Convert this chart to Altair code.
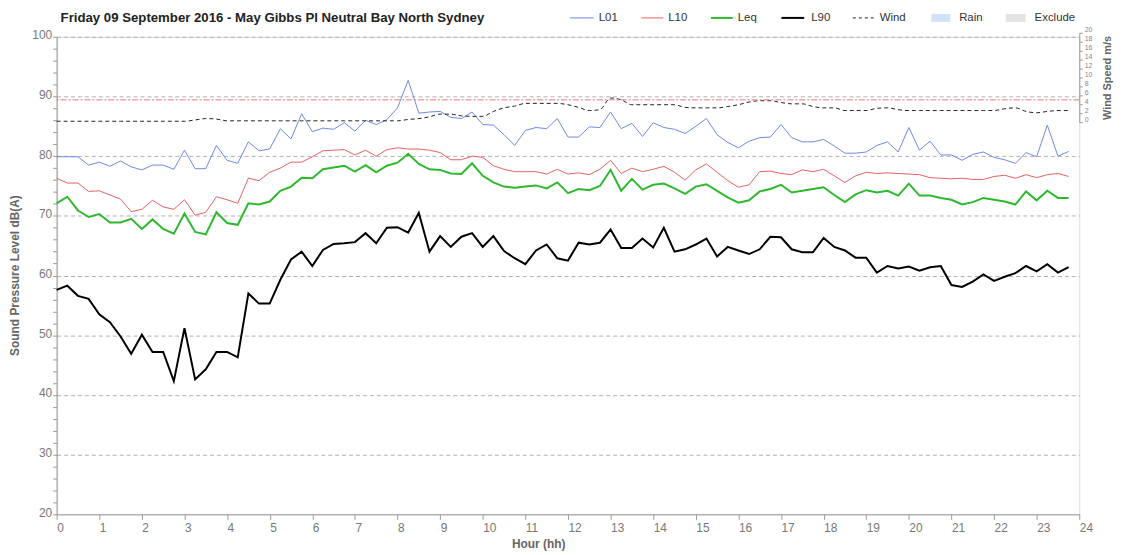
import altair as alt
import pandas as pd

FONT = "Liberation Sans"
TITLE = "Friday 09 September 2016 - May Gibbs Pl Neutral Bay North Sydney"

# 15-minute intervals over the day
hours = [i / 4 for i in range(96)]

l01 = [79.9, 79.9, 79.9, 78.5, 79.0, 78.3, 79.2, 78.2, 77.7, 78.5, 78.5, 77.8, 81.0, 77.9, 77.9, 81.8,
       79.3, 78.8, 82.4, 80.9, 81.2, 84.6, 82.9, 87.1, 84.1, 84.7, 84.5,
       85.6, 84.2, 86.0, 85.3, 86.1, 88.1, 92.7, 87.2, 87.4, 87.5, 86.5, 86.3, 87.4, 85.3, 85.2, 83.6,
       81.8, 84.3, 84.8, 84.6, 86.3, 83.2, 83.2, 84.9, 84.8, 87.4,
       84.6, 85.5, 83.3, 85.6, 84.8, 84.5, 83.8, 85.0, 86.3, 83.6, 82.3, 81.4, 82.5, 83.1, 83.2, 85.3,
       83.1, 82.4, 82.4, 82.8, 81.7, 80.5, 80.5, 80.7, 81.8, 82.4,
       80.7, 84.8, 81.0, 82.5, 80.2, 80.2, 79.3, 80.3, 80.7, 79.8, 79.4, 78.8, 80.6, 79.9, 85.2, 80.0, 80.8]

l10 = [76.3, 75.5, 75.5, 74.1, 74.2, 73.5, 72.8, 70.7, 71.1, 72.6, 71.5, 71.1, 72.7, 70.1, 70.6, 73.2,
       72.7, 72.1, 76.3, 75.9, 77.3, 78.0, 79.0, 79.0, 79.9, 80.9, 81.0,
       81.1, 80.2, 81.0, 80.0, 81.1, 81.4, 81.2, 81.2, 81.0, 80.6, 79.4, 79.4, 80.0, 79.8, 78.4, 77.8,
       77.4, 77.4, 77.4, 77.0, 77.8, 77.0, 77.2, 76.9, 77.8, 79.3,
       77.1, 78.0, 77.4, 77.8, 78.3, 77.3, 76.0, 77.7, 78.7, 77.3, 75.9, 74.8, 75.2, 77.4, 77.5, 77.1,
       76.9, 77.7, 77.4, 77.8, 76.7, 75.6, 76.7, 77.3, 77.1, 77.2,
       77.1, 77.0, 76.9, 76.4, 76.3, 76.2, 76.3, 76.1, 76.1, 76.6, 76.8, 76.3, 76.9, 76.4, 76.9, 77.1, 76.6]

leq = [72.1, 73.2, 70.9, 69.8, 70.3, 68.9, 68.9, 69.5, 67.8, 69.4, 67.8, 67.0, 70.4, 67.3, 66.9, 70.6,
       68.8, 68.5, 72.1, 71.9, 72.4, 74.2, 74.9, 76.4, 76.3, 77.8, 78.1,
       78.4, 77.4, 78.5, 77.3, 78.4, 78.9, 80.4, 78.7, 77.8, 77.7, 77.1, 77.0, 78.8, 76.7, 75.6, 74.9,
       74.7, 74.9, 75.1, 74.6, 75.6, 73.8, 74.5, 74.3, 75.0, 77.7,
       74.2, 76.2, 74.4, 75.2, 75.4, 74.6, 73.7, 74.9, 75.3, 74.2, 73.1, 72.2, 72.6, 74.1, 74.5, 75.2,
       73.9, 74.2, 74.5, 74.8, 73.5, 72.3, 73.6, 74.3, 73.9, 74.2,
       73.4, 75.4, 73.4, 73.4, 73.0, 72.7, 71.9, 72.3, 73.0, 72.7, 72.4, 71.9, 74.1, 72.6, 74.2, 73.0, 73.0]

l90 = [57.6, 58.3, 56.6, 56.1, 53.5, 52.2, 49.8, 46.9, 50.1, 47.2, 47.2, 42.3, 51.2, 42.6, 44.3, 47.2,
       47.2, 46.3, 57.0, 55.3, 55.3, 59.3, 62.7, 64.0, 61.6, 64.3, 65.3,
       65.4, 65.6, 67.1, 65.4, 68.0, 68.1, 67.2, 70.5, 64.0, 66.6, 64.8, 66.5, 67.1, 64.8, 66.6, 64.1,
       62.9, 61.9, 64.2, 65.2, 62.9, 62.5, 65.5, 65.2, 65.5, 67.7,
       64.6, 64.6, 66.2, 64.7, 68.0, 64.0, 64.4, 65.2, 66.2, 63.2, 64.8, 64.2, 63.6, 64.4, 66.5, 66.4,
       64.4, 63.9, 63.9, 66.3, 64.8, 64.2, 63.0, 63.0, 60.5, 61.6,
       61.2, 61.5, 60.8, 61.4, 61.6, 58.4, 58.1, 59.0, 60.2, 59.1, 59.8, 60.4, 61.6, 60.7, 61.9, 60.5, 61.4]

wind = [0.2, 0.2, 0.2, 0.2, 0.2, 0.2, 0.2, 0.2, 0.2, 0.2, 0.2, 0.2, 0.2, 0.5, 0.8, 0.7, 0.3,
        0.3, 0.3, 0.3, 0.3, 0.3, 0.3, 0.3, 0.3, 0.3, 0.3, 0.3, 0.3, 0.3, 0.3, 0.3, 0.3,
        0.6, 0.8, 1.2, 1.8, 1.8, 1.4, 1.3, 1.3, 2.4, 3.2, 3.6, 4.2, 4.2, 4.2, 4.2, 3.9, 3.3, 2.6,
        2.8, 5.4, 5.0, 3.9, 3.9, 3.9, 3.9, 3.9, 3.3, 3.2, 3.2, 3.2, 3.5, 3.9, 4.5, 4.8, 4.8, 4.4,
        4.1, 4.1, 3.5, 3.2, 3.2, 2.6, 2.6, 2.6, 3.1, 3.2, 2.8,
        2.6, 2.6, 2.6, 2.6, 2.6, 2.6, 2.6, 2.6, 2.6, 3.0, 3.2, 2.4, 2.1, 2.4, 2.6, 2.6]

wind_limit = [5]

series = ["L01", "L10", "Leq", "L90"]
series_colors = ["#7088e4", "#e66060", "#2eb82e", "#000000"]
series_widths = [1, 1, 2, 2]

legend_labels = ["L01", "L10", "Leq", "L90", "Wind", "Rain", "Exclude"]

df = pd.DataFrame({"hour": hours, "L01": l01, "L10": l10, "Leq": leq, "L90": l90, "wind": wind})

x_enc = alt.X(
    "hour:Q",
    scale=alt.Scale(domain=[0, 24], nice=False, zero=False),
    axis=alt.Axis(
        values=list(range(25)), grid=False, title="Hour (hh)",
        labelAlign="left", labelFlush=False, labelPadding=3,
        tickSize=5, tickColor="#999", domainColor="#999",
        labelColor="#777", labelFont=FONT, labelFontSize=12,
        titleFont=FONT, titleFontSize=12, titleFontWeight="bold", titleColor="#666",
        titleX=485, titleY=29, titleAlign="center", titleBaseline="middle",
    ),
)

y_scale = alt.Scale(domain=[20, 100], nice=False, zero=False)
y_axis = alt.Axis(
    values=list(range(20, 101, 2)),
    labelExpr="datum.value % 10 === 0 ? datum.label : ''",
    grid=True, gridDash=[4, 3], gridColor="#b0b0b0",
    gridOpacity={"condition": {"test": "datum.value % 10 === 0 && datum.value > 20", "value": 1}, "value": 0},
    tickSize=4, tickColor="#999", domainColor="#999",
    labelColor="#777", labelFont=FONT, labelFontSize=12, labelPadding=1, labelOffset=-2,
    title="Sound Pressure Level dB(A)", titleFont=FONT, titleFontSize=12,
    titleFontWeight="bold", titleColor="#666", titleAngle=270,
    titleX=-42, titleY=240, titleAlign="center", titleBaseline="middle",
)

line_layers = []
for name, col, w in zip(series, series_colors, series_widths):
    line_layers.append(
        alt.Chart(df).mark_line(color=col, strokeWidth=w).encode(
            x=x_enc,
            y=alt.Y(f"{name}:Q", scale=y_scale, axis=y_axis),
        )
    )

one = pd.DataFrame({"k": [0]})

title_mark = alt.Chart(one).mark_text(
    text=TITLE, align="left", baseline="middle", font=FONT, fontSize=13.3,
    fontWeight="bold", color="#222",
).encode(x=alt.value(4), y=alt.value(-19))

# legend layout (plot-relative pixels)
LEG_Y = -19
leg_sym_x = [517, 589, 659, 730, 802, 881, 956]
leg_sym_w = [24, 22, 22, 23, 21, 19, 20]
leg_txt_x = [546, 616, 686, 760, 829, 909, 985]

legend_layers = []
for i, lab in enumerate(legend_labels):
    x0 = leg_sym_x[i]
    x1 = x0 + leg_sym_w[i]
    if lab in series:
        j = series.index(lab)
        sym = alt.Chart(one).mark_rule(color=series_colors[j], strokeWidth=series_widths[j]).encode(
            x=alt.value(x0), x2=alt.value(x1), y=alt.value(LEG_Y))
    elif lab == "Wind":
        sym = alt.Chart(one).mark_rule(color="#222", strokeDash=[3, 3], strokeWidth=1).encode(
            x=alt.value(x0), x2=alt.value(x1), y=alt.value(LEG_Y))
    else:
        col = "#cfe2f8" if lab == "Rain" else "#e3e3e3"
        sym = alt.Chart(one).mark_rect(color=col).encode(
            x=alt.value(x0), x2=alt.value(x1), y=alt.value(LEG_Y - 4), y2=alt.value(LEG_Y + 4))
    txt = alt.Chart(one).mark_text(
        text=lab, align="left", baseline="middle", font=FONT, fontSize=11.5, color="#333",
    ).encode(x=alt.value(leg_txt_x[i]), y=alt.value(LEG_Y))
    legend_layers += [sym, txt]

left = alt.layer(*line_layers, title_mark, *legend_layers)

wind_scale = alt.Scale(domain=[0, 20], range=[86, -4], nice=False, zero=False)
wind_axis = alt.Axis(
    orient="right", values=list(range(21)),
    labelExpr="datum.value % 2 === 0 ? datum.label : ''",
    grid=False, tickSize=3, tickColor="#999", domainColor="#999",
    labelColor="#888", labelFont=FONT, labelFontSize=7, labelPadding=2, labelOffset=-3,
    title="Wind Speed m/s", titleFont=FONT, titleFontSize=11, titleFontWeight="bold",
    titleColor="#666", titleAngle=270, titleX=28, titleY=41,
    titleAlign="center", titleBaseline="middle",
)

wind_line = alt.Chart(df).mark_line(
    color="#222", strokeDash=[4, 3], strokeWidth=1, interpolate="monotone"
).encode(
    x=alt.X("hour:Q"),
    y=alt.Y("wind:Q", scale=wind_scale, axis=wind_axis),
)

limit_rule = alt.Chart(pd.DataFrame({"wind": wind_limit})).mark_rule(
    color="#e77", strokeDash=[6, 2, 2, 2], strokeWidth=1
).encode(y=alt.Y("wind:Q"))

right = alt.layer(wind_line, limit_rule)

chart = alt.layer(left, right).resolve_scale(y="independent").properties(
    width=1030, height=481,
    autosize=alt.AutoSizeParams(type="none"),
    padding={"left": 49, "top": 27, "right": 37, "bottom": 40},
).configure_view(stroke=None).configure(background="white")

chart.save("out.html", embed_options={"renderer": "svg", "actions": False})
